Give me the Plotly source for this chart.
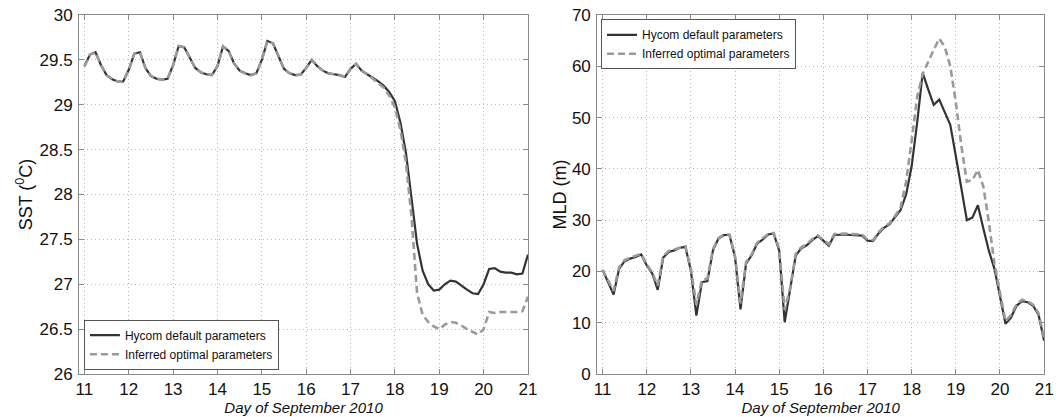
import numpy as np
import plotly.graph_objects as go

# 3-hourly model output, 11-21 September 2010
days = np.arange(11.0, 21.0001, 0.125)

sst_default = [
    29.43, 29.56, 29.585, 29.44, 29.33, 29.285, 29.26, 29.26,
    29.39, 29.57, 29.585, 29.41, 29.32, 29.29, 29.28, 29.29,
    29.44, 29.655, 29.64, 29.52, 29.41, 29.36, 29.34, 29.33,
    29.43, 29.65, 29.60, 29.46, 29.38, 29.35, 29.33, 29.35,
    29.50, 29.71, 29.685, 29.54, 29.40, 29.35, 29.33, 29.335,
    29.41, 29.50, 29.43, 29.38, 29.35, 29.34, 29.33, 29.31,
    29.40, 29.455, 29.38, 29.34, 29.30, 29.26, 29.21, 29.14,
    29.04, 28.80, 28.46, 27.98, 27.45, 27.15, 27.00, 26.93,
    26.94, 27.00, 27.04, 27.03, 26.98, 26.94, 26.90, 26.89,
    27.00, 27.17, 27.18, 27.14, 27.13, 27.13, 27.11, 27.12,
    27.33,
]

sst_optimal = [
    29.43, 29.56, 29.585, 29.44, 29.33, 29.285, 29.26, 29.26,
    29.39, 29.57, 29.585, 29.41, 29.32, 29.29, 29.28, 29.29,
    29.44, 29.655, 29.64, 29.52, 29.41, 29.36, 29.34, 29.33,
    29.43, 29.65, 29.60, 29.46, 29.38, 29.35, 29.33, 29.35,
    29.50, 29.71, 29.685, 29.54, 29.40, 29.35, 29.33, 29.335,
    29.41, 29.50, 29.43, 29.38, 29.35, 29.34, 29.33, 29.31,
    29.40, 29.455, 29.38, 29.34, 29.29, 29.25, 29.19, 29.10,
    28.97, 28.72, 28.35, 27.75, 26.90, 26.66, 26.58, 26.53,
    26.50, 26.55, 26.58, 26.57, 26.54, 26.50, 26.47, 26.44,
    26.50, 26.69, 26.68, 26.69, 26.69, 26.69, 26.69, 26.70,
    26.86,
]

mld_default = [
    20.3, 17.9, 15.5, 20.5, 22.0, 22.5, 22.8, 23.3,
    21.2, 19.6, 16.4, 22.7, 23.8, 24.1, 24.6, 24.8,
    20.2, 11.4, 17.9, 18.1, 24.1, 26.4, 27.1, 27.1,
    22.8, 12.6, 21.5, 23.1, 25.4, 26.2, 27.2, 27.4,
    24.1, 10.1, 16.3, 23.1, 24.5, 25.1, 26.1, 26.9,
    26.0, 25.0, 27.1, 27.2, 27.2, 27.1, 27.1, 27.0,
    26.0, 25.9, 27.4, 28.5, 29.2, 30.5, 32.0, 35.0,
    40.5, 49.0, 58.7, 55.5, 52.5, 53.5, 51.0, 48.6,
    42.5, 36.0, 30.0, 30.5, 32.9, 28.3, 24.0, 20.5,
    15.0, 9.8, 11.0, 13.3, 14.2, 14.0, 13.3, 11.5,
    6.5,
]

mld_optimal = [
    20.3, 18.2, 16.2, 20.8, 22.2, 22.7, 23.0, 23.4,
    21.4, 19.8, 17.2, 23.0, 24.0, 24.3, 24.7, 24.9,
    20.5, 13.5, 18.3, 18.6, 24.3, 26.5, 27.2, 27.2,
    23.0, 13.8, 21.8, 23.3, 25.6, 26.4, 27.3, 27.5,
    24.4, 12.5, 16.8, 23.4, 24.7, 25.3, 26.3, 27.0,
    26.2, 25.3, 27.3, 27.4, 27.4, 27.3, 27.3, 27.2,
    26.2, 26.1, 27.6, 28.7, 29.4, 30.8, 32.5, 37.5,
    45.5, 54.0, 58.5, 61.0, 63.2, 65.4, 63.8, 60.0,
    53.0, 44.5, 37.5, 37.8, 39.8, 36.5, 29.5, 21.5,
    15.5, 10.3, 11.5, 13.6, 14.5, 14.2, 13.5, 11.8,
    7.0,
]

series_names = ["Hycom default parameters", "Inferred optimal parameters"]
x_ticks = list(range(11, 22))
sst_ticks = [26, 26.5, 27, 27.5, 28, 28.5, 29, 29.5, 30]
mld_ticks = [0, 10, 20, 30, 40, 50, 60, 70]

FONT = "Liberation Sans, Arial, Helvetica, sans-serif"
SOLID = dict(color="#333333", width=2.2)
DASHED = dict(color="#9a9a9a", width=2.6, dash="7px,4px")

fig = go.Figure()

panels = [
    ("x", "y", "legend", sst_default, sst_optimal),
    ("x2", "y2", "legend2", mld_default, mld_optimal),
]
for xa, ya, lg, solid_vals, dashed_vals in panels:
    fig.add_trace(go.Scatter(x=days, y=solid_vals, mode="lines", name=series_names[0],
                             line=SOLID, xaxis=xa, yaxis=ya, legend=lg))
    fig.add_trace(go.Scatter(x=days, y=dashed_vals, mode="lines", name=series_names[1],
                             line=DASHED, xaxis=xa, yaxis=ya, legend=lg))

axis_common = dict(
    showline=True, linecolor="#8a8a8a", linewidth=1, mirror="ticks",
    ticks="inside", ticklen=5, tickcolor="#8a8a8a",
    showgrid=True, gridcolor="#b8b8b8", griddash="1px,3px", gridwidth=1,
    zeroline=False, tickfont=dict(size=17, color="#111111", family=FONT),
)

xtitle = dict(text="<i>Day of September 2010</i>", font=dict(size=15, color="#111111", family=FONT),
              standoff=2)
ytitle_font = dict(size=18, color="#111111", family=FONT)

legend_common = dict(
    xanchor="left", bgcolor="white", bordercolor="#555555", borderwidth=1,
    font=dict(size=12, family=FONT, color="#111111"), tracegroupgap=0, itemwidth=30,
)

fig.update_layout(
    width=1063, height=417,
    margin=dict(l=0, r=0, t=15, b=43),
    paper_bgcolor="white", plot_bgcolor="white",
    font=dict(family=FONT, color="#111111"),
    xaxis=dict(domain=[0.0724, 0.4995], range=[10.88, 21], tickvals=x_ticks,
               title=xtitle, anchor="y", **axis_common),
    yaxis=dict(domain=[0, 1], range=[26, 30], tickvals=sst_ticks,
               ticktext=[f"{v:g}" for v in sst_ticks], anchor="x",
               title=dict(text="SST (<sup>0</sup>C)", font=ytitle_font, standoff=2),
               ticklabelstandoff=2, **axis_common),
    xaxis2=dict(domain=[0.5654, 0.9906], range=[10.88, 21], tickvals=x_ticks,
                title=xtitle, anchor="y2", **axis_common),
    yaxis2=dict(domain=[0, 1], range=[0, 70], tickvals=mld_ticks, anchor="x2",
                title=dict(text="MLD (m)", font=ytitle_font, standoff=0),
                ticklabelstandoff=2, **axis_common),
    legend=dict(x=0.077, y=0.012, yanchor="bottom", **legend_common),
    legend2=dict(x=0.569, y=0.988, yanchor="top", **legend_common),
)

fig.write_html("out.html")
